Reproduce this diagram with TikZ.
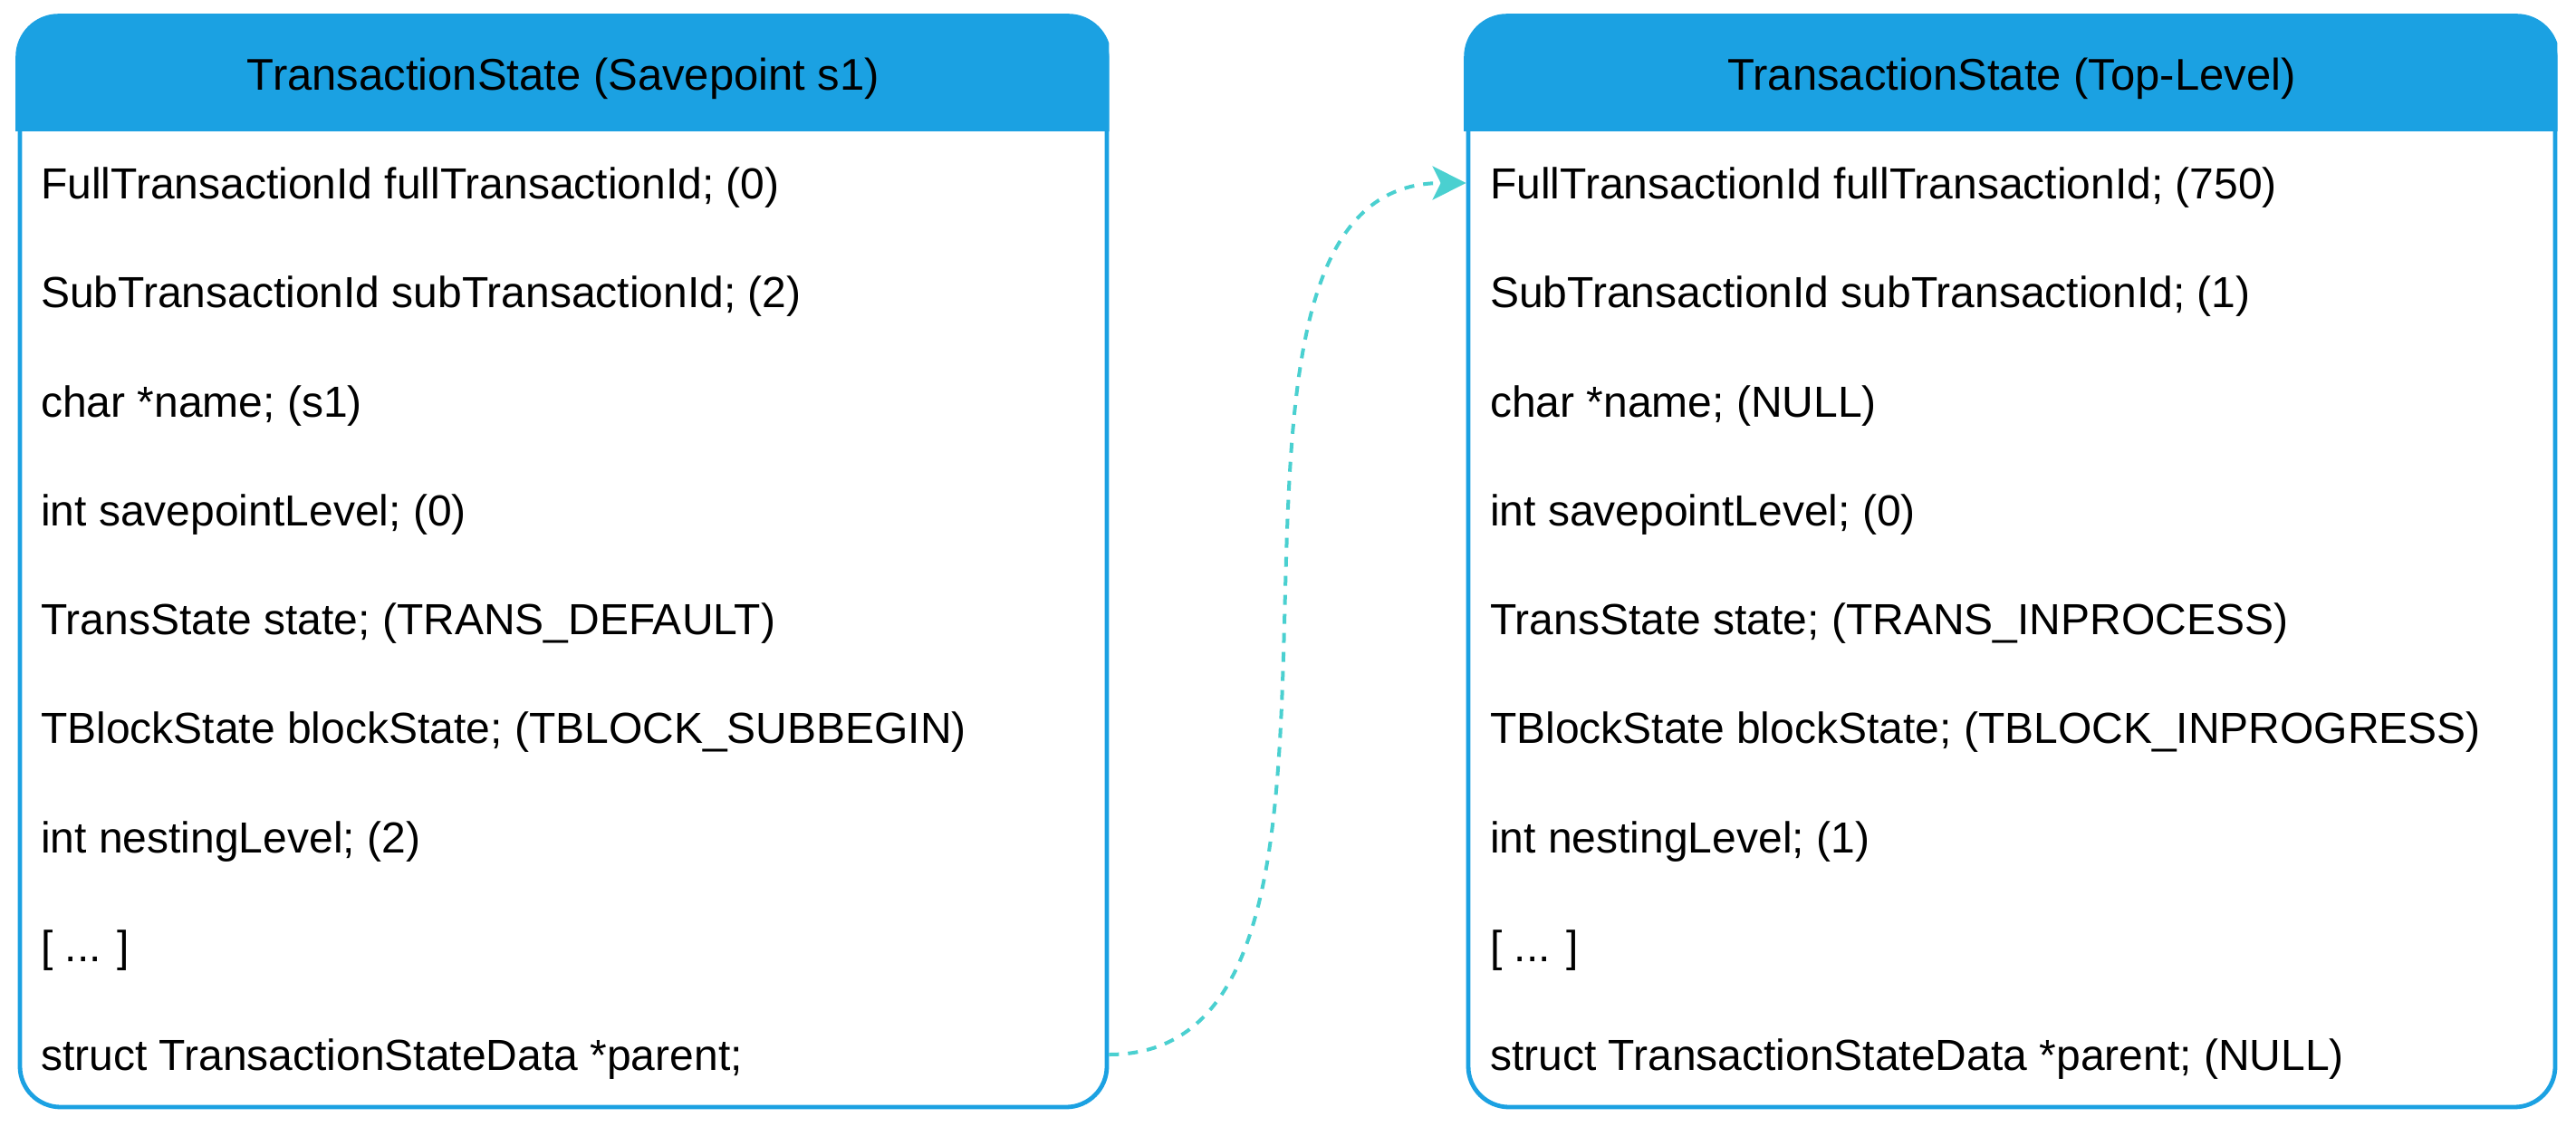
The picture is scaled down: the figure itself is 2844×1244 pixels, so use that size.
\documentclass[tikz,border=0pt]{standalone}
\usepackage{fontspec}
\setmainfont{Liberation Sans}
\usetikzlibrary{arrows.meta}
\definecolor{hdr}{HTML}{1BA1E2}
\definecolor{lnk}{HTML}{4AD0D0}
\begin{document}
\begin{tikzpicture}[x=1pt,y=-1pt,
  frame/.style={draw=hdr, fill=white, line width=4.8pt, rounded corners=45pt, minimum width=1200pt, minimum height=1202pt, inner sep=0pt},
  field/.style={anchor=west, inner sep=0pt, text height=35pt, text depth=0pt, font=\fontsize{48}{58}\selectfont},
  title/.style={anchor=base, inner sep=0pt, font=\fontsize{49}{59}\selectfont},
  link/.style={draw=lnk, line width=4pt, dash pattern=on 11pt off 10pt, -{Stealth[length=37pt,width=37pt,inset=9pt]}}
]
\useasboundingbox (0,0) rectangle (2844,1244);
\fill[white] (0,0) rectangle (2844,1244);

% boxes
\node[frame] (L) at (622,621) {};
\node[frame] (R) at (2221,621) {};

\begin{scope}
\clip (L.north west) ++(-6,-6) rectangle (L.east |- 0,144);
\filldraw[hdr, line width=4.8pt, rounded corners=45pt] (L.north west) rectangle (L.south east);
\end{scope}
\begin{scope}
\clip (R.north west) ++(-6,-6) rectangle (R.east |- 0,144);
\filldraw[hdr, line width=4.8pt, rounded corners=45pt] (R.north west) rectangle (R.south east);
\end{scope}

\node[title] (Lt) at (L.north |- 0,100) {TransactionState (Savepoint s1)};
\node[title] (Rt) at (R.north |- 0,100) {TransactionState (Top-Level)};

% left fields
\node[field] (l0) at (45,202) {FullTransactionId fullTransactionId; (0)};
\node[field] (l1) at (45,322.25) {SubTransactionId subTransactionId; (2)};
\node[field] (l2) at (45,442.5) {char *name; (s1)};
\node[field] (l3) at (45,562.75) {int savepointLevel; (0)};
\node[field] (l4) at (45,683) {TransState state; (TRANS\_DEFAULT)};
\node[field] (l5) at (45,803.25) {TBlockState blockState; (TBLOCK\_SUBBEGIN)};
\node[field] (l6) at (45,923.5) {int nestingLevel; (2)};
\node[field] (l7) at (45,1043.75) {[ ... ]};
\node[field] (l8) at (45,1164) {struct TransactionStateData *parent;};

% right fields
\node[field] (r0) at (1645,202) {FullTransactionId fullTransactionId; (750)};
\node[field] (r1) at (1645,322.25) {SubTransactionId subTransactionId; (1)};
\node[field] (r2) at (1645,442.5) {char *name; (NULL)};
\node[field] (r3) at (1645,562.75) {int savepointLevel; (0)};
\node[field] (r4) at (1645,683) {TransState state; (TRANS\_INPROCESS)};
\node[field] (r5) at (1645,803.25) {TBlockState blockState; (TBLOCK\_INPROGRESS)};
\node[field] (r6) at (1645,923.5) {int nestingLevel; (1)};
\node[field] (r7) at (1645,1043.75) {[ ... ]};
\node[field] (r8) at (1645,1164) {struct TransactionStateData *parent; (NULL)};

% connector
\draw[link] (L.east |- l8.west) .. controls +(355,0) and +(-355,0) .. (R.west |- r0.west);
\end{tikzpicture}
\end{document}
